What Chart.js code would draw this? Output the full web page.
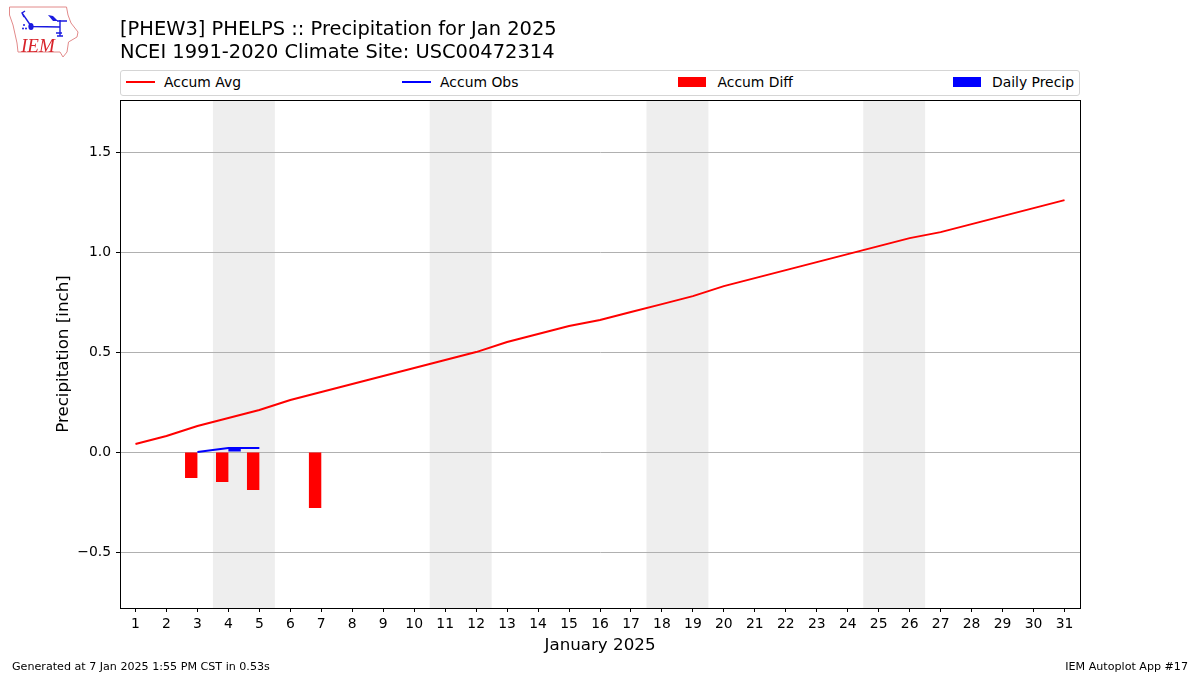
<!DOCTYPE html>
<html>
<head>
<meta charset="utf-8">
<title>PHEW3 precipitation</title>
<script src="https://cdn.jsdelivr.net/npm/chart.js@4"></script>
<style>
body { margin: 0; background: #fff; font-family: "DejaVu Sans", sans-serif; color: #000; }
#wrap { position: relative; width: 1200px; height: 675px; overflow: hidden; }
#legend { position: absolute; left: 120px; top: 70px; width: 960px; height: 26px; box-sizing: border-box; border: 1px solid #d5d5d5; border-radius: 3px; background: #fff; display: flex; justify-content: space-between; align-items: center; padding: 0 5px 2px; font-size: 13.9px; }
#legend .item { display: flex; align-items: center; }
#legend .swatch { display: inline-block; width: 29px; margin-right: 9px; }
#legend .swatch.bar { width: 28px; height: 10px; margin-left: -1px; margin-right: 11px; }
#legend .swatch.line { height: 2px; }
.foot { position: absolute; top: 660px; font-size: 11.12px; }
#logo { position: absolute; left: 0; top: 0; }
</style>
</head>
<body>
<div id="wrap">
  <canvas id="precipChart" width="1200" height="675"></canvas>
  <div id="legend"></div>
  <div class="foot" style="left:12px">Generated at 7 Jan 2025 1:55 PM CST in 0.53s</div>
  <div class="foot" style="right:12px">IEM Autoplot App #17</div>
  <svg id="logo" width="90" height="62" viewBox="0 0 90 62">
    <path d="M9.5 7 L66.5 7 L68 15 L71 23 L78 32 L77 37 L68.5 42 L67 52 L63 57 L60 52 L18 52 L17 43 L13 25 L9.5 15 Z" fill="none" stroke="#e28a8a" stroke-width="1"/>
    <path d="M31 26.5 L60 27 M60 20 L60 36 M31 26 L22 13 L25 11 M22 13 L24 17 M57 21 L67 21 M56 33 L62 33 M57 36 L63 36" fill="none" stroke="#1a1ae0" stroke-width="1.4"/>
    <path d="M48 15 L53 16 L58 21 L53 21 Z" fill="#1a1ae0"/>
    <ellipse cx="31" cy="26.5" rx="2.6" ry="3.6" fill="#1a1ae0"/>
    <circle cx="24" cy="25" r="1" fill="#1a1ae0"/><circle cx="23" cy="28.5" r="1" fill="#1a1ae0"/><circle cx="26" cy="28.5" r="1" fill="#1a1ae0"/>
    <text x="21" y="52" font-family="Liberation Serif" font-style="italic" font-size="19" fill="#d8232a">IEM</text>
  </svg>
</div>
<script>
// 1月の降水データ
const days = ['1','2','3','4','5','6','7','8','9','10','11','12','13','14','15','16','17','18','19','20','21','22','23','24','25','26','27','28','29','30','31'];
const accumAvg = [0.04,0.08,0.13,0.17,0.21,0.26,0.30,0.34,0.38,0.42,0.46,0.50,0.55,0.59,0.63,0.66,0.70,0.74,0.78,0.83,0.87,0.91,0.95,0.99,1.03,1.07,1.10,1.14,1.18,1.22,1.26];
const accumObs = [null,null,0,0.02,0.02];
const accumDiff = [null,null,-0.13,-0.15,-0.19,null,-0.28];
const dailyPrecip = [null,null,0,0.02,0];
const yTicks = [-0.5,0,0.5,1.0,1.5];
// 週末の帯 (開始日, 終了日)
const weekends = [['4','5'],['11','12'],['18','19'],['25','26']];

const weekendBands = {
    id: 'weekendBands',
    beforeDraw(chart) {
        const { ctx, chartArea, scales } = chart;
        const half = (scales.x.getPixelForValue(1) - scales.x.getPixelForValue(0)) / 2;
        ctx.save();
        ctx.fillStyle = '#eeeeee';
        weekends.forEach(([from, to]) => {
            const x0 = scales.x.getPixelForValue(days.indexOf(from)) - half;
            const x1 = scales.x.getPixelForValue(days.indexOf(to)) + half;
            ctx.fillRect(x0, chartArea.top, x1 - x0, chartArea.bottom - chartArea.top);
        });
        ctx.restore();
    }
};

// 上と右の枠線
const frame = {
    id: 'frame',
    afterDraw(chart) {
        const { ctx, chartArea } = chart;
        ctx.save();
        ctx.strokeStyle = '#000';
        ctx.lineWidth = 1;
        ctx.strokeRect(Math.round(chartArea.left) + 0.5, Math.round(chartArea.top) + 0.5,
            Math.round(chartArea.right - chartArea.left), Math.round(chartArea.bottom - chartArea.top));
        ctx.restore();
    }
};

const ctx = document.getElementById('precipChart').getContext('2d');
const chart = new Chart(ctx, {
    type: 'bar',
    data: {
        labels: days,
        datasets: [
            { type: 'line', label: 'Accum Avg', data: accumAvg, borderColor: '#ff0000', borderWidth: 2, pointRadius: 0, order: 1 },
            { type: 'line', label: 'Accum Obs', data: accumObs, borderColor: '#0000ff', borderWidth: 2, pointRadius: 0, order: 2 },
            { label: 'Accum Diff', data: accumDiff, backgroundColor: '#ff0000', order: 3, categoryPercentage: 0.8, barPercentage: 1 },
            { label: 'Daily Precip', data: dailyPrecip, backgroundColor: '#0000ff', order: 4, categoryPercentage: 0.8, barPercentage: 1 }
        ]
    },
    options: {
        responsive: false,
        animation: false,
        layout: { padding: { right: 120, bottom: 19 } },
        font: { family: 'DejaVu Sans' },
        plugins: {
            legend: { display: false },
            tooltip: { enabled: false },
            title: {
                display: true,
                text: ['[PHEW3] PHELPS :: Precipitation for Jan 2025', 'NCEI 1991-2020 Climate Site: USC00472314'],
                align: 'start',
                fullSize: false,
                color: '#000',
                font: { family: 'DejaVu Sans', size: 19.44, weight: 'normal', lineHeight: 1.2 },
                padding: { top: 18, bottom: 35.5 }
            }
        },
        scales: {
            x: {
                afterFit(scale) { scale.height = 48; },
                grid: { offset: false, drawOnChartArea: false, tickLength: 4, color: '#000' },
                border: { color: '#000' },
                ticks: { color: '#000', font: { family: 'DejaVu Sans', size: 13.9 }, maxRotation: 0, autoSkip: false, padding: 4 },
                title: { display: true, text: 'January 2025', color: '#000', font: { family: 'DejaVu Sans', size: 16.7 }, padding: 0 }
            },
            y: {
                min: -0.78,
                max: 1.76,
                afterFit(scale) { scale.width = 120; },
                afterBuildTicks(scale) { scale.ticks = yTicks.map(v => ({ value: v })); },
                grid: { color: '#b0b0b0', tickColor: '#000', tickLength: 4 },
                border: { color: '#000' },
                ticks: {
                    color: '#000',
                    font: { family: 'DejaVu Sans', size: 13.9 },
                    padding: 5,
                    callback: v => (v < 0 ? '\u2212' : '') + Math.abs(v).toFixed(1)
                },
                title: { display: true, text: 'Precipitation [inch]', color: '#000', font: { family: 'DejaVu Sans', size: 16.7 }, padding: { top: 54, bottom: 0 } }
            }
        }
    },
    plugins: [weekendBands, frame]
});

// 凡例 (横いっぱいに広げる)
const legendBox = document.getElementById('legend');
const legendOrder = [
    { idx: 0, kind: 'line' },
    { idx: 1, kind: 'line' },
    { idx: 2, kind: 'bar' },
    { idx: 3, kind: 'bar' }
];
legendOrder.forEach(({ idx, kind }) => {
    const ds = chart.data.datasets[idx];
    const item = document.createElement('span');
    item.className = 'item';
    const sw = document.createElement('span');
    sw.className = 'swatch ' + kind;
    sw.style.background = ds.borderColor || ds.backgroundColor;
    item.appendChild(sw);
    item.appendChild(document.createTextNode(ds.label));
    legendBox.appendChild(item);
});
</script>
</body>
</html>
